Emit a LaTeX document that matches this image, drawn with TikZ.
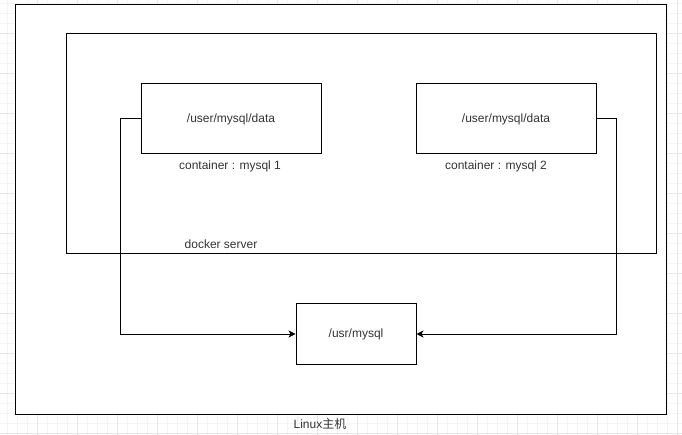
\documentclass[tikz,border=0pt]{standalone}
\usepackage{fontspec}
\setmainfont{Liberation Sans}
\newfontfamily\cjk{Noto Sans CJK SC}
\usepackage{tikz}
\usetikzlibrary{positioning,arrows.meta}
\definecolor{gridMinor}{HTML}{F4F4F4}
\definecolor{gridMajor}{HTML}{E6E6E6}
\definecolor{txtGray}{HTML}{333333}

\begin{document}
\begin{tikzpicture}[x=1pt, y=-1pt,
                    frame/.style={draw=black, line width=1pt, fill=white, inner sep=0pt},
                    dirbox/.style={draw=black, line width=1pt, fill=white, inner sep=0pt,
                                   font=\fontsize{12pt}{14pt}\selectfont, text=txtGray},
                    lbl/.style={inner sep=0pt, font=\fontsize{12pt}{14pt}\selectfont, text=txtGray},
                    arr/.style={-{Stealth[length=7pt,width=7pt,inset=2pt]}, line width=1pt, color=black}
                ]
                    \useasboundingbox (0,0) rectangle (682,435);
                    % grid background
                    \foreach \gx in {7,17,...,677} \draw[gridMinor, line width=0.8pt] (\gx,0) -- (\gx,435);
                    \foreach \gy in {3,13,...,433} \draw[gridMinor, line width=0.8pt] (0,\gy) -- (682,\gy);
                    \foreach \gx in {37,77,...,677} \draw[gridMajor, line width=0.8pt] (\gx,0) -- (\gx,435);
                    \foreach \gy in {33,73,...,433} \draw[gridMajor, line width=0.8pt] (0,\gy) -- (682,\gy);
                    % frames
                    \node[frame, minimum width=651pt, minimum height=409pt] (host) at (340.5,209.5) {};
                    \node[frame, minimum width=590pt, minimum height=220pt] (docker) at (361,144) {};
                    \node[lbl] (hostlbl) at (320,424) {Linux{\cjk 主机}};
                    \node[lbl] (dockerlbl) at (221,244) {docker server};
                    % containers
                    \node[dirbox, minimum width=180pt, minimum height=70pt] (data1) at (231,119) {/user/mysql/data};
                    \node[dirbox, minimum width=180pt, minimum height=70pt] (data2) at (506,119) {/user/mysql/data};
                    \node[lbl, below=6pt of data1, xshift=-1pt] (c1) {container : mysql 1};
                    \node[lbl, below=6pt of data2, xshift=-10pt] (c2) {container : mysql 2};
                    % host directory
                    \node[dirbox, minimum width=120pt, minimum height=60pt] (usr) at (356,334) {/usr/mysql};
                    \draw[arr] (data1.west) -- ++(-20,0) |- (usr.west);
                    \draw[arr] (data2.east) -- ++(20,0) |- (usr.east);
                \end{tikzpicture}
\end{document}
